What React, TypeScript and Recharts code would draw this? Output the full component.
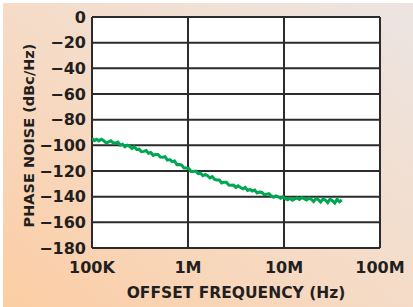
import { LineChart, Line, XAxis, YAxis, CartesianGrid, Label } from 'recharts';

// offset frequency in kHz
const freqKHz = [
  100, 106, 112, 118, 125, 132, 140, 148, 157, 166, 176, 186, 197, 208, 220, 233, 247, 261, 276, 292,
  309, 327, 346, 366, 388, 410, 434, 460, 487, 515, 545, 577, 611, 646, 684, 724, 766, 811, 858, 908,
  961, 1017, 1076, 1139, 1205, 1275, 1349, 1428, 1511, 1599, 1692, 1790, 1894, 2004, 2121, 2244, 2375,
  2513, 2659, 2814, 2977, 3150, 3333, 3527, 3732, 3949, 4179, 4422, 4679, 4951, 5239, 5543, 5866, 6207,
  6568, 6950, 7354, 7781, 8234, 8713, 9219, 9755, 10321, 10920, 11554, 12225, 12935, 13686, 14480,
  15321, 16210, 17151, 18147, 19200, 20315, 21494, 22742, 24062, 25460, 26938, 28502, 30157, 31908,
  33760, 35720, 37793, 39987,
];

// phase noise in dBc/Hz
const phaseNoise = [
  -94.5, -96.3, -95.3, -96.5, -95.3, -96.3, -98.0, -97.4, -96.5, -98.0, -98.2, -97.5, -99.8, -99.1,
  -101.1, -99.9, -100.9, -102.5, -101.1, -103.2, -103.0, -105.0, -104.7, -104.1, -106.2, -105.6, -107.9,
  -107.1, -107.2, -109.1, -109.2, -108.8, -111.5, -111.1, -112.7, -112.2, -115.0, -114.9, -115.4, -117.6,
  -117.7, -118.0, -120.3, -120.3, -120.0, -122.0, -121.7, -123.7, -122.7, -123.7, -125.4, -124.4, -126.6,
  -127.1, -127.0, -129.3, -128.7, -128.7, -130.9, -131.1, -130.9, -132.9, -131.5, -132.8, -133.9, -132.8,
  -135.1, -134.4, -135.6, -134.9, -137.1, -136.4, -136.5, -138.4, -138.2, -137.6, -139.4, -140.4, -139.4,
  -140.1, -141.3, -140.2, -141.6, -142.4, -141.3, -142.8, -141.7, -141.0, -142.2, -140.8, -141.5, -142.6,
  -141.2, -142.0, -143.8, -141.6, -142.3, -144.2, -141.8, -142.6, -144.6, -141.9, -143.2, -145.0, -142.0,
  -144.0, -142.6,
];

const xTicks = [1e5, 1e6, 1e7, 1e8];
const xTickLabels = ['100K', '1M', '10M', '100M'];
const yTicks = [0, -20, -40, -60, -80, -100, -120, -140, -160, -180];

const data = freqKHz.map((f, i) => ({ f: f * 1000, db: phaseNoise[i] }));

const FONT = '"DejaVu Sans", sans-serif';
const tickStyle = { fontSize: 16, fontWeight: 700, fill: '#231f20', fontFamily: FONT };

function XTitle({ viewBox }: any) {
  return (
    <text
      x={viewBox.x + viewBox.width / 2}
      y={viewBox.y + 45}
      textAnchor="middle"
      dominantBaseline="central"
      style={{ fontSize: 15.5, fontWeight: 700, fill: '#231f20', fontFamily: FONT }}
    >
      OFFSET FREQUENCY (Hz)
    </text>
  );
}

function YTitle({ viewBox }: any) {
  const cx = 29;
  const cy = viewBox.y + viewBox.height / 2 + 3;
  return (
    <text
      x={cx}
      y={cy}
      transform={`rotate(-90 ${cx} ${cy})`}
      textAnchor="middle"
      dominantBaseline="central"
      style={{ fontSize: 14.5, fontWeight: 700, fill: '#231f20', fontFamily: FONT }}
    >
      PHASE NOISE (dBc/Hz)
    </text>
  );
}

export default function App() {
  return (
    <div
      style={{
        position: 'absolute',
        left: 0,
        top: 0,
        width: 413,
        height: 307,
        boxSizing: 'border-box',
        borderTop: '3px solid #fff',
        borderLeft: '3px solid #fff',
        background: 'linear-gradient(to top right, #fccda3 0%, #f5dcc8 50%, #ebe4e2 100%)',
      }}
    >
      <LineChart
        width={413}
        height={307}
        data={data}
        margin={{ top: 17, right: 33, bottom: 9, left: 29 }}
        style={{ position: 'absolute', left: -3, top: -3 }}
      >
        <CartesianGrid
          stroke="#2b2b2b"
          strokeWidth={2}
          fill="#fff"
          fillOpacity={1}
          horizontalValues={yTicks}
          verticalValues={xTicks}
        />
        <XAxis
          dataKey="f"
          type="number"
          scale="log"
          domain={[1e5, 1e8]}
          ticks={xTicks}
          allowDataOverflow
          height={50}
          axisLine={false}
          tickLine={false}
          tickSize={8}
          tickMargin={6}
          tick={tickStyle}
          tickFormatter={(v: number) => xTickLabels[xTicks.indexOf(v)] ?? ''}
          interval={0}
        >
          <Label content={<XTitle />} />
        </XAxis>
        <YAxis
          type="number"
          domain={[-180, 0]}
          ticks={yTicks}
          width={63}
          axisLine={false}
          tickLine={false}
          tickSize={4}
          tickMargin={2}
          tick={tickStyle}
          tickFormatter={(v: number) => (v === 0 ? '0' : '\u2212' + Math.abs(v))}
          interval={0}
        >
          <Label content={<YTitle />} />
        </YAxis>
        <Line
          type="linear"
          dataKey="db"
          stroke="#00a651"
          strokeWidth={3}
          strokeLinejoin="miter"
          dot={false}
          isAnimationActive={false}
        />
      </LineChart>
    </div>
  );
}
